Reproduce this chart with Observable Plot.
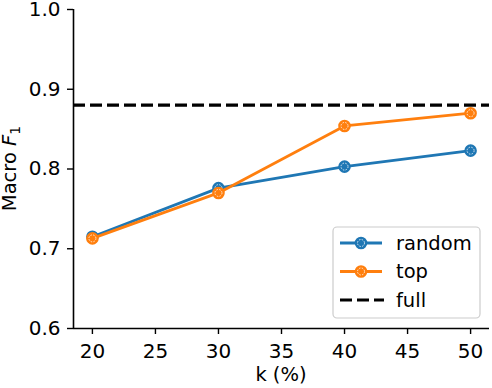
<!DOCTYPE html>
<html>
<head>
<meta charset="utf-8">
<script src="https://cdn.jsdelivr.net/npm/d3@7"></script>
<script src="https://cdn.jsdelivr.net/npm/@observablehq/plot@0.6"></script>
<style>
  html, body { margin: 0; padding: 0; background: white; }
  #chart { width: 492px; height: 388px; }
</style>
</head>
<body>
<div id="chart"></div>
<script>
const ks = [20, 30, 40, 50];
const randomF1 = [0.715, 0.776, 0.803, 0.823];
const topF1 = [0.713, 0.770, 0.854, 0.870];
const fullF1 = 0.880;
const seriesNames = ["random", "top", "full"];
const seriesColors = ["#1f77b4", "#ff7f0e", "#000000"];
const xTicks = [20, 25, 30, 35, 40, 45, 50];
const yTicks = [0.6, 0.7, 0.8, 0.9, 1.0];

const randomRows = ks.map((k, i) => ({k, v: randomF1[i]}));
const topRows = ks.map((k, i) => ({k, v: topF1[i]}));

const W = 492, H = 388;
const mL = 73, mR = 3, mT = 9, mB = 60;
const FS = 20;

function seriesMarks(rows, color) {
  return [
    Plot.line(rows, {x: "k", y: "v", stroke: color, strokeWidth: 2.8}),
    Plot.dot(rows, {x: "k", y: "v", r: 5.4, fill: color, stroke: color, strokeWidth: 1.8}),
    Plot.dot(rows, {x: "k", y: "v", r: 3.5, fill: "none", stroke: "white", strokeWidth: 0.8, strokeDasharray: "1.5,1.3"})
  ];
}

const plot = Plot.plot({
  width: W, height: H,
  marginLeft: mL, marginRight: mR, marginTop: mT, marginBottom: mB,
  style: {fontFamily: "DejaVu Sans", fontSize: FS + "px", background: "white", color: "black"},
  x: {domain: [18.5, 51.5]},
  y: {domain: [0.6, 1.0]},
  marks: [
    Plot.axisX({ticks: xTicks, tickSize: 6, tickPadding: 9, tickFormat: d => String(d), label: null, strokeWidth: 1.4, fontSize: FS}),
    Plot.axisY({ticks: yTicks, tickSize: 6, tickPadding: 7, tickFormat: d => d.toFixed(1), label: null, strokeWidth: 1.4, fontSize: FS}),
    Plot.ruleY([0.6], {stroke: "black", strokeWidth: 1.6}),
    Plot.ruleX([18.5], {stroke: "black", strokeWidth: 1.6}),
    ...seriesMarks(randomRows, seriesColors[0]),
    ...seriesMarks(topRows, seriesColors[1]),
    Plot.ruleY([fullF1], {stroke: "black", strokeWidth: 3.2, strokeDasharray: "12,5"})
  ]
});

const svg = d3.select(plot);
svg.style("font-family", "DejaVu Sans");

// axis titles
svg.append("text")
  .attr("x", (mL + (W - mR)) / 2).attr("y", 381)
  .attr("text-anchor", "middle").attr("font-size", 19.5).attr("fill", "black")
  .text("k (%)");

const yl = svg.append("text")
  .attr("transform", `translate(16,${(mT + (H - mB)) / 2}) rotate(-90)`)
  .attr("text-anchor", "middle").attr("font-size", 19.5).attr("fill", "black");
yl.append("tspan").text("Macro ");
yl.append("tspan").attr("font-style", "italic").text("F");
yl.append("tspan").attr("font-size", 14).attr("dy", 4).text("1");

// legend
const lg = svg.append("g");
lg.append("rect").attr("x", 333).attr("y", 227).attr("width", 147).attr("height", 91)
  .attr("rx", 4).attr("fill", "white").attr("fill-opacity", 0.8)
  .attr("stroke", "#cccccc").attr("stroke-width", 1.2);
const rowsY = [243, 271.5, 300];
seriesNames.forEach((name, i) => {
  const y = rowsY[i];
  const c = seriesColors[i];
  if (i < 2) {
    lg.append("line").attr("x1", 340).attr("x2", 382).attr("y1", y).attr("y2", y)
      .attr("stroke", c).attr("stroke-width", 2.8);
    lg.append("circle").attr("cx", 361).attr("cy", y).attr("r", 5.4)
      .attr("fill", c).attr("stroke", c).attr("stroke-width", 1.8);
    lg.append("circle").attr("cx", 361).attr("cy", y).attr("r", 3.5)
      .attr("fill", "none").attr("stroke", "white").attr("stroke-width", 0.8).attr("stroke-dasharray", "1.5,1.3");
  } else {
    lg.append("line").attr("x1", 340).attr("x2", 384).attr("y1", y).attr("y2", y)
      .attr("stroke", c).attr("stroke-width", 3.2).attr("stroke-dasharray", "12,5");
  }
  lg.append("text").attr("x", 396).attr("y", y + 6.5).attr("text-anchor", "start")
    .attr("font-size", 19.5).attr("fill", "black").text(name);
});

document.getElementById("chart").appendChild(plot);
</script>
</body>
</html>
